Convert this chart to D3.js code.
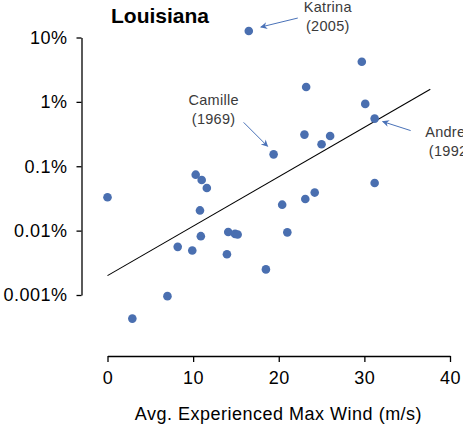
<!DOCTYPE html>
<html>
<head>
<meta charset="utf-8">
<script src="https://cdn.jsdelivr.net/npm/d3@7"></script>
<style>
    body { margin: 0; background: #fff; }
    svg { display: block; font-family: "Liberation Sans", Arial, Helvetica, sans-serif; }
    .axis path, .axis line { stroke: #000; stroke-width: 1.3; }
    .axis text { font-size: 18px; fill: #000; letter-spacing: 0.5px; }
    .note { font-size: 14.5px; fill: #3a3a3a; letter-spacing: 0.3px; }
</style>
</head>
<body>
<div id="chart"></div>
<script>
// Storm data: avg experienced max wind (m/s) vs share of damage (%)
var windSpeed = [0, 2.9, 7.0, 8.2, 9.9, 10.3, 10.8, 10.9, 11.0, 11.6, 13.95, 14.1, 14.9, 15.2,
    16.5, 18.5, 19.4, 20.4, 21.0, 23.0, 23.1, 23.2, 24.2, 25.0, 26.0, 29.7, 30.1, 31.2, 31.2];
var damagePct = [0.033, 0.00043, 0.00096, 0.0056, 0.0049, 0.074, 0.0206, 0.0082, 0.061, 0.046, 0.0043, 0.0095, 0.0089, 0.0087,
    12.6, 0.0025, 0.153, 0.0253, 0.0094, 0.31, 0.031, 1.7, 0.039, 0.22, 0.295, 4.2, 0.93, 0.55, 0.055];

// fitted trend line end points
var fitWind = [0, 37.7];
var fitPct = [0.002, 1.57];

var xTicks = [0, 10, 20, 30, 40];
var yTicks = [10, 1, 0.1, 0.01, 0.001];
var yTickLabels = ["10%", "1%", "0.1%", "0.01%", "0.001%"];

// named storms: index into the arrays above
var stormNames = ["Katrina", "Camille", "Andrew"];
var stormYears = ["(2005)", "(1969)", "(1992)"];
var stormIndex = [14, 16, 27];

// label / arrow offsets from the point (px)
var noteLayout = [
    {tx: 79, ty: -24, ax1: 49, ay1: -13, ax2: 12, ay2: -4},
    {tx: -60, ty: -54, ax1: -30, ay1: -32, ax2: -6, ay2: -8},
    {tx: 76, ty: 13, ax1: 36, ay1: 12, ax2: 8, ay2: 3}
];

var width = 463, height = 425;
var dotColor = "#4a6fb0";

var svg = d3.select("#chart").append("svg")
    .attr("width", width)
    .attr("height", height);

var xScale = d3.scaleLinear().domain([0, 40]).range([107.5, 450]);
var yScale = d3.scaleLog().domain([0.001, 10]).range([295, 37.5]);

// axes
var xAxis = d3.axisBottom(xScale)
    .tickValues(xTicks)
    .tickSize(6)
    .tickSizeOuter(0)
    .tickPadding(9)
    .tickFormat(d3.format("d"));

svg.append("g")
    .attr("class", "x axis")
    .attr("transform", "translate(0,356)")
    .call(xAxis);

var yAxis = d3.axisLeft(yScale)
    .tickValues(yTicks)
    .tickSize(5)
    .tickSizeOuter(0)
    .tickPadding(9)
    .tickFormat(function (d, i) { return yTickLabels[i]; });

svg.append("g")
    .attr("class", "y axis")
    .attr("transform", "translate(81.5,0)")
    .call(yAxis);

svg.append("text")
    .attr("x", 278.5)
    .attr("y", 420)
    .attr("text-anchor", "middle")
    .style("font-size", "18px")
    .style("letter-spacing", "0.5px")
    .text("Avg. Experienced Max Wind (m/s)");

svg.append("text")
    .attr("x", 160)
    .attr("y", 23)
    .attr("text-anchor", "middle")
    .style("font-size", "21px")
    .style("font-weight", "bold")
    .text("Louisiana");

// trend line
var line = d3.line()
    .x(function (d, i) { return xScale(fitWind[i]); })
    .y(function (d, i) { return yScale(fitPct[i]); });

svg.append("path")
    .datum(fitWind)
    .attr("d", line)
    .attr("fill", "none")
    .attr("stroke", "#000")
    .attr("stroke-width", 1.1);

// dots
svg.append("g").selectAll("circle")
    .data(windSpeed)
    .enter().append("circle")
    .attr("cx", function (d) { return xScale(d); })
    .attr("cy", function (d, i) { return yScale(damagePct[i]); })
    .attr("r", 4.3)
    .attr("fill", dotColor);

// arrow marker
svg.append("defs").append("marker")
    .attr("id", "arrow")
    .attr("viewBox", "0 0 10 10")
    .attr("refX", 9)
    .attr("refY", 5)
    .attr("markerWidth", 9)
    .attr("markerHeight", 7)
    .attr("markerUnits", "userSpaceOnUse")
    .attr("orient", "auto")
    .append("path")
    .attr("d", "M0,0 L10,5 L0,10 L3,5 Z")
    .attr("fill", "#4a72b8");

// annotations
var notes = svg.append("g");
stormIndex.forEach(function (idx, i) {
    var px = xScale(windSpeed[idx]), py = yScale(damagePct[idx]);
    var L = noteLayout[i];
    notes.append("line")
        .attr("x1", px + L.ax1).attr("y1", py + L.ay1)
        .attr("x2", px + L.ax2).attr("y2", py + L.ay2)
        .attr("stroke", "#4a72b8")
        .attr("stroke-width", 1)
        .attr("marker-end", "url(#arrow)");
    var t = notes.append("text")
        .attr("class", "note")
        .attr("text-anchor", "middle");
    t.append("tspan").attr("x", px + L.tx).attr("y", py + L.ty).attr("dy", "0.35em").text(stormNames[i]);
    t.append("tspan").attr("x", px + L.tx).attr("y", py + L.ty + 19).attr("dy", "0.35em").text(stormYears[i]);
});
</script>
</body>
</html>
